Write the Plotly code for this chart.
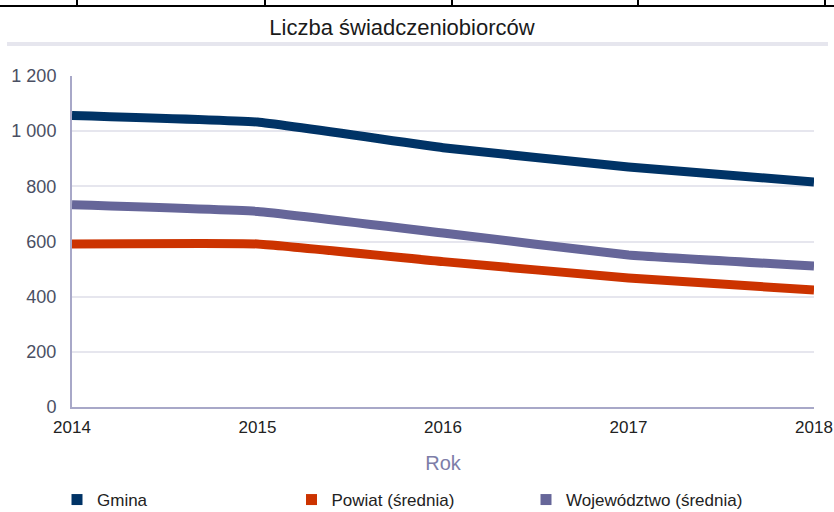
import plotly.graph_objects as go

years = [2014, 2015, 2016, 2017, 2018]
gmina = [1057, 1033, 940, 870, 816]
powiat = [591, 591, 527, 468, 424]
wojewodztwo = [733, 709, 631, 551, 511]

series_names = ["Gmina", "Powiat (średnia)", "Województwo (średnia)"]
series_values = [gmina, powiat, wojewodztwo]
colors = ["#003366", "#cc3300", "#666699"]

y_ticks = [0, 200, 400, 600, 800, 1000, 1200]
y_tick_labels = ["0", "200", "400", "600", "800", "1 000", "1 200"]

L, R, T, B = 72, 20, 76, 105
PW, PH = 834 - L - R, 512 - T - B

def px_x(p):
    return (p - L) / PW

def px_y(p):
    return 1 - (p - T) / PH

fig = go.Figure()
for name, vals, col in zip(series_names, series_values, colors):
    fig.add_trace(go.Scatter(
        x=years, y=vals, mode="lines", name=name,
        line=dict(color=col, width=9, shape="spline", smoothing=0.3),
        showlegend=False, hoverinfo="x+y+name"))
for name, col in zip(series_names, colors):
    fig.add_trace(go.Scatter(
        x=[None], y=[None], mode="markers", name=name,
        marker=dict(symbol="square", size=11, color=col),
        showlegend=True))

fig.update_layout(
    width=834, height=512,
    margin=dict(l=L, r=R, t=T, b=B, autoexpand=False),
    paper_bgcolor="white", plot_bgcolor="white",
    title=dict(text="Liczba świadczeniobiorców", x=402 / 834, xanchor="center",
               y=1 - 27 / 512, yanchor="middle",
               font=dict(family="Liberation Sans", size=22, color="#1a1a1a")),
    xaxis=dict(range=[2014, 2018], tickvals=years, ticktext=[str(y) for y in years],
               showgrid=False, showline=True, linecolor="#a8a8c8", linewidth=2,
               ticks="outside", ticklen=4, tickcolor="rgba(0,0,0,0)",
               tickfont=dict(family="Liberation Sans", size=17, color="#222222"),
               title=dict(text="Rok", font=dict(family="Liberation Sans", size=20, color="#7d7da8"),
                          standoff=20),
               zeroline=False),
    yaxis=dict(range=[0, 1200], tickvals=y_ticks, ticktext=y_tick_labels,
               showgrid=True, gridcolor="#e6e6ee", gridwidth=1.5,
               showline=True, linecolor="#a8a8c8", linewidth=2, zeroline=False,
               ticks="outside", ticklen=10, tickcolor="rgba(0,0,0,0)",
               tickfont=dict(family="Liberation Sans", size=18, color="#4a4f63")),
    legend=dict(orientation="h", x=px_x(57), xanchor="left", y=px_y(500), yanchor="middle",
                entrywidth=189.5, entrywidthmode="pixels", itemwidth=30,
                font=dict(family="Liberation Sans", size=17, color="#222222")),
)

# Top table fragment and separator band
fig.add_shape(type="line", xref="paper", yref="paper", x0=px_x(0), x1=px_x(834),
              y0=px_y(6), y1=px_y(6), line=dict(color="black", width=2))
for p in [77, 265, 452, 638, 825]:
    fig.add_shape(type="line", xref="paper", yref="paper", x0=px_x(p), x1=px_x(p),
                  y0=px_y(6), y1=px_y(0), line=dict(color="black", width=2))
fig.add_shape(type="rect", xref="paper", yref="paper", x0=px_x(7), x1=px_x(828),
              y0=px_y(46), y1=px_y(42), line=dict(width=0), fillcolor="#e6e6ee")

fig.write_html("out.html", config={"displayModeBar": False},
               post_script="document.body.style.margin='0';document.body.style.padding='0';")
